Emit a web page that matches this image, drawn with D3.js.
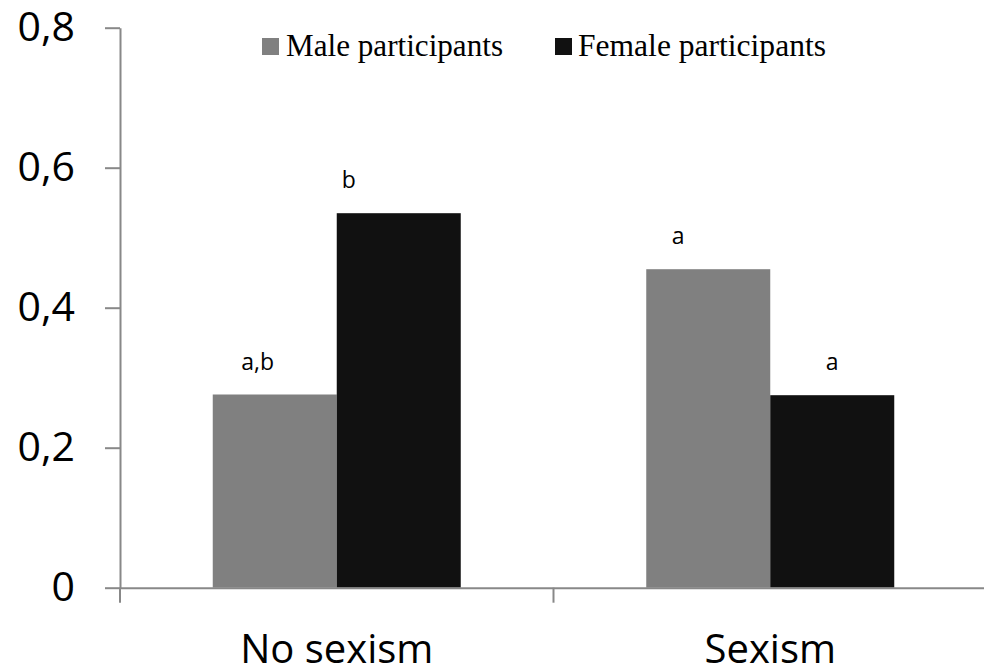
<!DOCTYPE html>
<html>
<head>
<meta charset="utf-8">
<script src="https://cdn.jsdelivr.net/npm/d3@7"></script>
<style>
  html, body { margin: 0; padding: 0; background: #fff; }
  svg { display: block; }
</style>
</head>
<body>
<svg id="chart" width="984" height="671"></svg>
<script>
// ---- data ----
const categories = ["No sexism", "Sexism"];
const seriesNames = ["Male participants", "Female participants"];
const maleValues = [0.276, 0.455];
const femaleValues = [0.535, 0.275];
const maleLetters = ["a,b", "a"];
const femaleLetters = ["b", "a"];
const yTicks = [0, 0.2, 0.4, 0.6, 0.8];
const yTickLabels = ["0", "0,2", "0,4", "0,6", "0,8"];

// ---- layout / style ----
const colors = { "Male participants": "#808080", "Female participants": "#111111" };
const axisColor = "#888888";
const letterDx = { "Male participants": [-17, -30], "Female participants": [-50, 0] };

const svg = d3.select("#chart");
const plotLeft = 120, plotRight = 987, plotTop = 27.7, plotBottom = 587.7;

const y = d3.scaleLinear().domain([0, 0.8]).range([plotBottom, plotTop]);
const x0 = d3.scaleBand().domain(categories).range([plotLeft, plotRight]).paddingInner(0).paddingOuter(0);
const x1 = d3.scaleBand().domain(seriesNames).range([0, x0.bandwidth()]).paddingInner(0).paddingOuter(0.748);

const rows = categories.map((c, i) => ({
  cat: c,
  vals: [
    { s: seriesNames[0], v: maleValues[i], letter: maleLetters[i], dx: letterDx[seriesNames[0]][i] },
    { s: seriesNames[1], v: femaleValues[i], letter: femaleLetters[i], dx: letterDx[seriesNames[1]][i] }
  ]
}));

// bars
const g = svg.append("g");
const groups = g.selectAll("g.cat").data(rows).join("g")
  .attr("class", "cat")
  .attr("transform", d => `translate(${x0(d.cat)},0)`);

groups.selectAll("rect").data(d => d.vals).join("rect")
  .attr("x", d => x1(d.s))
  .attr("y", d => y(d.v))
  .attr("width", x1.bandwidth())
  .attr("height", d => y(0) - y(d.v))
  .attr("fill", d => colors[d.s]);

groups.selectAll("text.letter").data(d => d.vals).join("text")
  .attr("class", "letter")
  .attr("x", d => x1(d.s) + x1.bandwidth() / 2 + d.dx)
  .attr("y", d => y(d.v) - 25)
  .attr("text-anchor", "middle")
  .attr("font-family", "'Open Sans', sans-serif")
  .attr("font-size", 23)
  .attr("fill", "#000")
  .text(d => d.letter);

// y axis
const yAxis = d3.axisLeft(y).tickValues(yTicks).tickFormat((d, i) => yTickLabels[i])
  .tickSize(15).tickSizeOuter(0).tickPadding(30);
const yg = svg.append("g").attr("transform", `translate(${plotLeft},0)`).call(yAxis);
yg.select(".domain").attr("stroke", axisColor).attr("stroke-width", 2);
yg.selectAll(".tick line").attr("stroke", axisColor).attr("stroke-width", 2);
yg.selectAll(".tick text")
  .attr("font-family", "'Open Sans', sans-serif")
  .attr("font-size", 41)
  .attr("fill", "#000");

// x axis
const xAxis = d3.axisBottom(x0).tickValues([]).tickSizeOuter(0);
const xg = svg.append("g").attr("transform", `translate(0,${plotBottom})`).call(xAxis);
xg.select(".domain").attr("stroke", axisColor).attr("stroke-width", 2);
// boundary ticks between categories
const boundaries = [plotLeft].concat(categories.map(c => x0(c) + x0.bandwidth()));
xg.selectAll("line.bnd").data(boundaries).join("line")
  .attr("class", "bnd")
  .attr("x1", d => d).attr("x2", d => d)
  .attr("y1", 0).attr("y2", 15)
  .attr("stroke", axisColor).attr("stroke-width", 2);
xg.selectAll("text.cat").data(categories).join("text")
  .attr("class", "cat")
  .attr("x", d => x0(d) + x0.bandwidth() / 2)
  .attr("y", 75)
  .attr("text-anchor", "middle")
  .attr("font-family", "'Open Sans', sans-serif")
  .attr("font-size", 40)
  .attr("fill", "#000")
  .text(d => d);

// legend
const legendItems = [
  { s: seriesNames[0], x: 262, tx: 286, len: 217 },
  { s: seriesNames[1], x: 555, tx: 578, len: 248 }
];
const lg = svg.append("g");
lg.selectAll("rect").data(legendItems).join("rect")
  .attr("x", d => d.x).attr("y", 38).attr("width", 17).attr("height", 17)
  .attr("fill", d => colors[d.s]);
lg.selectAll("text").data(legendItems).join("text")
  .attr("x", d => d.tx).attr("y", 56)
  .attr("font-family", "'Liberation Serif', 'Times New Roman', serif")
  .attr("font-size", 31)
  .attr("textLength", d => d.len)
  .attr("lengthAdjust", "spacingAndGlyphs")
  .attr("fill", "#000")
  .text(d => d.s);
</script>
</body>
</html>
